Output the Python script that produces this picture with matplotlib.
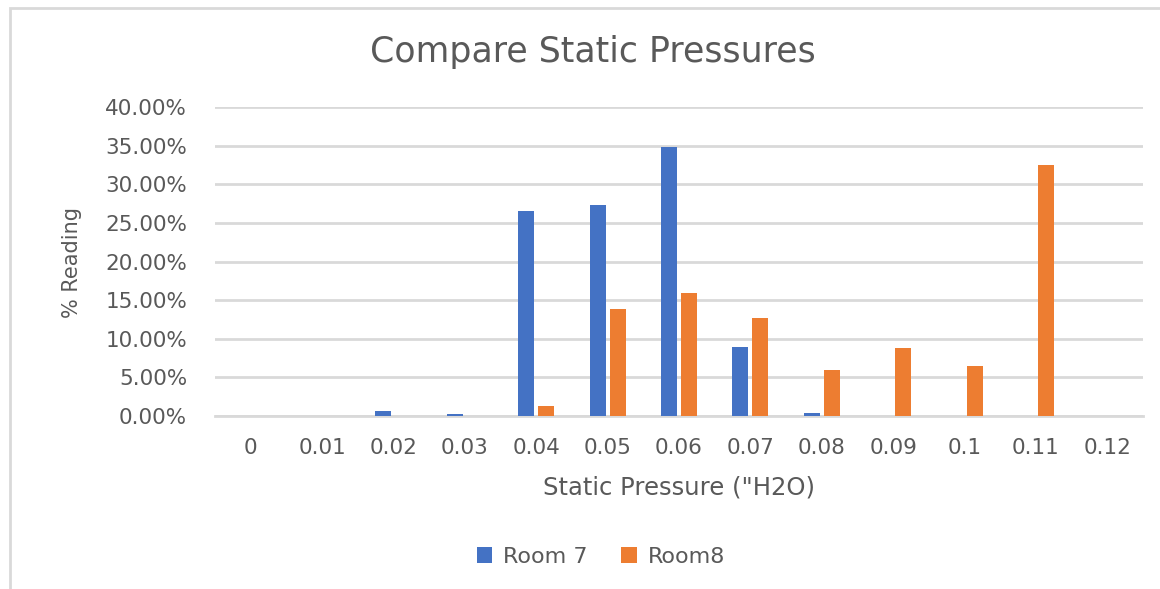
import numpy as np
import matplotlib.pyplot as plt
from matplotlib.patches import Rectangle
from matplotlib.ticker import PercentFormatter

# data
categories = ['0', '0.01', '0.02', '0.03', '0.04', '0.05', '0.06',
              '0.07', '0.08', '0.09', '0.1', '0.11', '0.12']
room7 = [0, 0, 0.6, 0.3, 26.5, 27.3, 34.8, 8.9, 0.45, 0, 0, 0, 0]
room8 = [0, 0, 0, 0, 1.3, 13.9, 15.9, 12.7, 5.95, 8.76, 6.47, 32.5, 0]

blue = '#4472C4'
orange = '#ED7D31'
text_col = '#595959'
grid_col = '#D9D9D9'

plt.rcParams['font.family'] = ['DejaVu Sans']

W, H = 1160, 589
fig = plt.figure(figsize=(W / 100, H / 100), dpi=100)

def fx(px):
    return px / W

def fy(py):
    return 1 - py / H

# chart area border (right and bottom edges fall outside the picture)
fig.patches.append(Rectangle((fx(9.5), fy(600)), 1.2, (600 - 8) / H,
                             transform=fig.transFigure, fill=False,
                             edgecolor=grid_col, linewidth=2))

ax = fig.add_axes([fx(215), fy(416), fx(1143 - 215), (416 - 107) / H])

x = np.arange(len(categories))
bw = 0.224
gap = 0.056
ax.bar(x - (bw + gap) / 2, room7, bw, color=blue, label='Room 7', zorder=3)
ax.bar(x + (bw + gap) / 2, room8, bw, color=orange, label='Room8', zorder=3)

ax.set_xlim(-0.5, len(categories) - 0.5)
ax.set_ylim(0, 40)
ax.set_yticks(np.arange(0, 41, 5))
ax.yaxis.set_major_formatter(PercentFormatter(decimals=2))
ax.set_xticks(x)
ax.set_xticklabels(categories)

ax.grid(axis='y', color=grid_col, linewidth=2, zorder=0)
for s in ['top', 'right', 'left']:
    ax.spines[s].set_visible(False)
ax.spines['bottom'].set_color(grid_col)
ax.spines['bottom'].set_linewidth(2)
ax.tick_params(axis='both', length=0, labelsize=15.5, colors=text_col)
ax.tick_params(axis='x', pad=16)
ax.tick_params(axis='y', pad=20)

fig.text(fx(593), fy(52), 'Compare Static Pressures', fontsize=25,
         color=text_col, ha='center', va='center')
fig.text(fx(679), fy(488), 'Static Pressure ("H2O)', fontsize=17.5,
         color=text_col, ha='center', va='center')
fig.text(fx(72), fy(262), '% Reading', fontsize=15, color=text_col,
         ha='center', va='center', rotation=90)

fig.legend(*ax.get_legend_handles_labels(), loc='center',
           bbox_to_anchor=(fx(601), fy(557)), ncol=2, frameon=False,
           fontsize=16, labelcolor=text_col, handlelength=0.7,
           handleheight=0.7, handletextpad=0.5, columnspacing=1.5)

fig.savefig('out.png', dpi=100, facecolor='white')
